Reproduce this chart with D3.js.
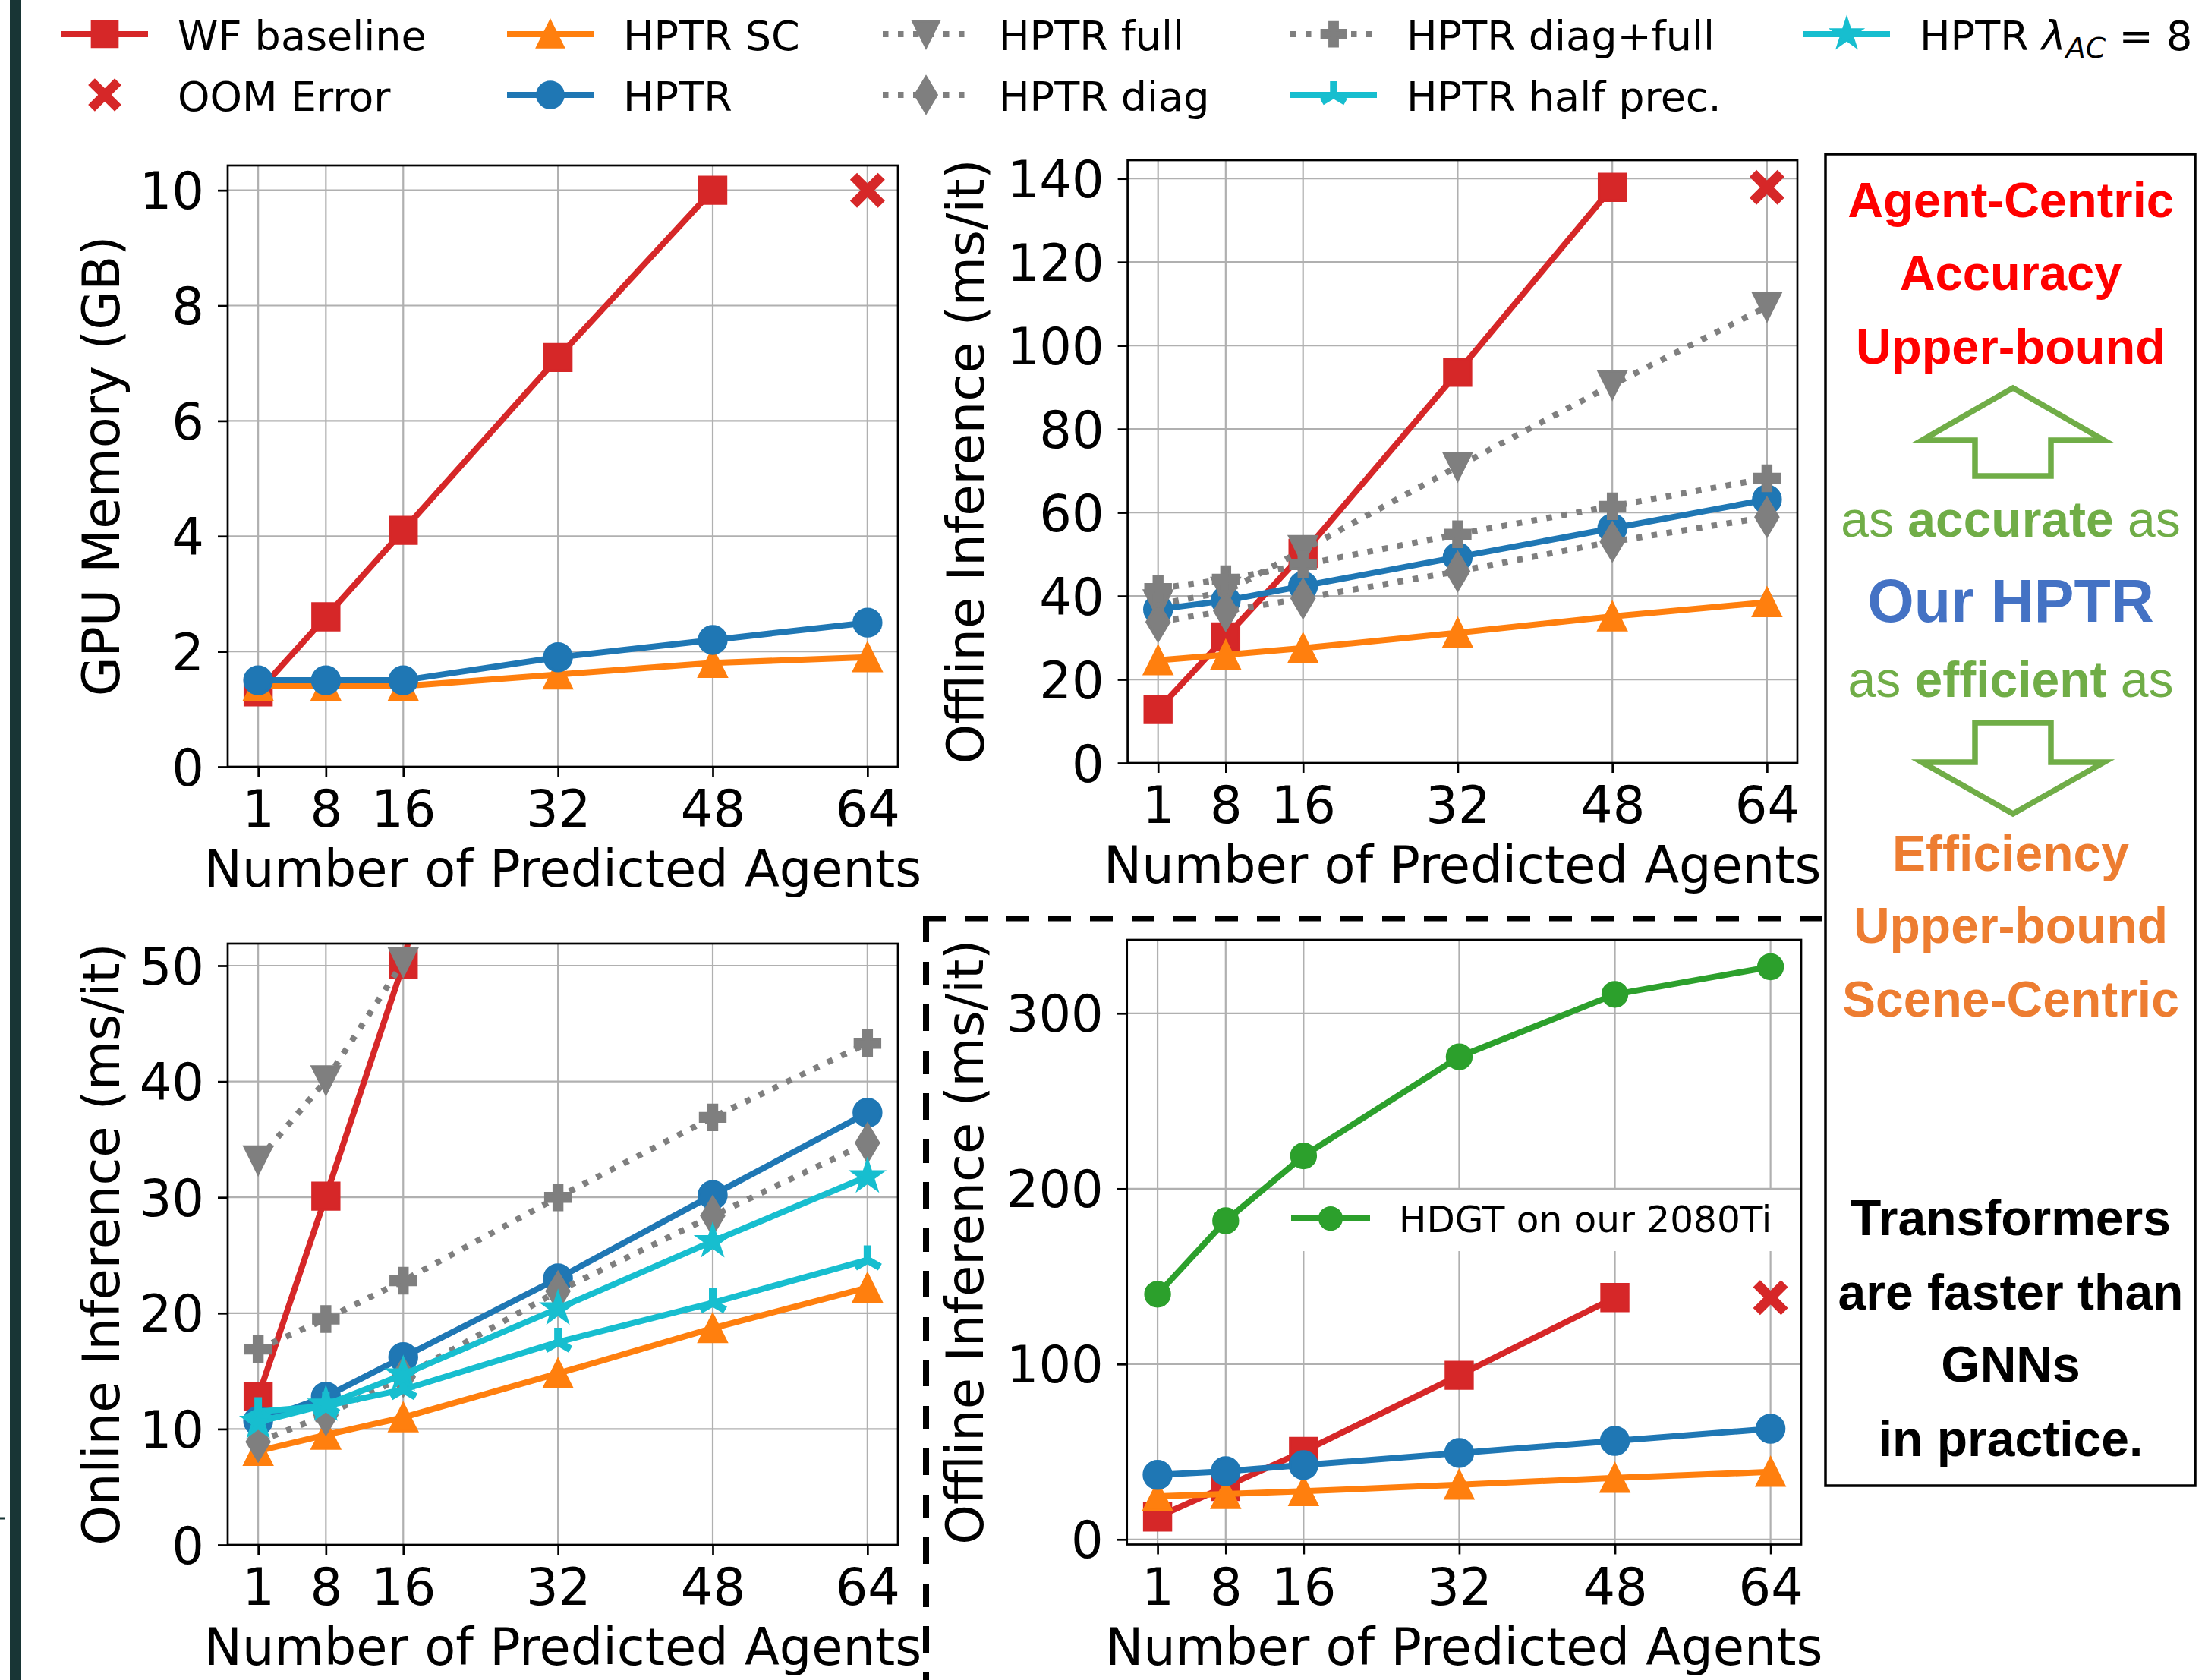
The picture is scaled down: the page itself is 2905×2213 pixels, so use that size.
<!DOCTYPE html>
<html>
<head>
<meta charset="utf-8">
<script src="https://cdn.jsdelivr.net/npm/d3@7"></script>
<style>
  html, body { margin: 0; padding: 0; background: #fff; }
  svg { display: block; }
</style>
</head>
<body>
<div id="chart"></div>
<script>
// ---
// Data
// ---
const agents = [1, 8, 16, 32, 48, 64]

// GPU memory (GB)
const memWF = [1.3, 2.6, 4.1, 7.1, 10.0]
const memOOM = [10.0]
const memSC = [1.4, 1.4, 1.4, 1.6, 1.8, 1.9]
const memHPTR = [1.5, 1.5, 1.5, 1.9, 2.2, 2.5]

// Offline inference (ms/it)
const offWF = [12.8, 30.2, 50.2, 93.6, 137.9]
const offOOM = [137.9]
const offSC = [24.6, 25.9, 27.5, 31.2, 35.1, 38.5]
const offHPTR = [36.8, 38.9, 42.4, 49.3, 56.2, 63.1]
const offFull = [38.0, 41.0, 51.0, 71.0, 90.6, 109.3]
const offDiag = [33.8, 36.4, 39.4, 45.9, 53.0, 58.9]
const offDiagFull = [41.8, 44.0, 47.5, 54.8, 61.5, 68.2]
const offHDGT = [139.8, 181.7, 218.7, 275.2, 310.8, 326.5]

// Online inference (ms/it)
const onWF = [12.8, 30.1, 50.1, 112]
const onSC = [8.1, 9.5, 11.0, 14.8, 18.7, 22.2]
const onHPTR = [10.7, 12.8, 16.2, 23.0, 30.2, 37.3]
const onFull = [33.2, 40.1, 50.3]
const onDiag = [8.9, 11.2, 14.5, 21.9, 28.4, 34.7]
const onDiagFull = [16.9, 19.5, 22.8, 30.0, 36.9, 43.3]
const onHalf = [11.5, 12.0, 13.4, 17.5, 20.9, 24.6]
const onLambda = [10.6, 12.1, 14.7, 20.4, 26.2, 31.8]

// Tick labels
const memTicks = [0, 2, 4, 6, 8, 10]
const offTicks = [0, 20, 40, 60, 80, 100, 120, 140]
const onTicks = [0, 10, 20, 30, 40, 50]
const hdgtTicks = [0, 100, 200, 300]

const legendNames = ['WF baseline', 'OOM Error', 'HPTR SC', 'HPTR', 'HPTR full',
  'HPTR diag', 'HPTR diag+full', 'HPTR half prec.', 'HPTR λAC = 8']

// ---
// Styles
// ---
const W = 2905
const H = 2213
const C = {
  red: '#d62728', orange: '#ff7f0e', blue: '#1f77b4',
  gray: '#7f7f7f', cyan: '#17becf', green: '#2ca02c'
}
const LW = 8
const EDGE = 3.4
const DOT = '7.5,12.5'
const FONT = '"DejaVu Sans", sans-serif'
const BOX_FONT = '"Liberation Sans", Arial, sans-serif'
const FS = 67

const svg = d3.select('#chart').append('svg')
  .attr('width', W)
  .attr('height', H)
  .style('font-family', FONT)

svg.append('rect').attr('width', W).attr('height', H).attr('fill', '#fff')

// dark strip at the left border of the picture
svg.append('rect').attr('x', 13).attr('y', 0).attr('width', 15).attr('height', H).attr('fill', '#183535')
svg.append('line').attr('x1', 0).attr('x2', 7).attr('y1', 2000).attr('y2', 2000)
  .attr('stroke', '#183535').attr('stroke-width', 3)

// ---
// Markers
// ---
const markerSize = { square: 35, circle: 36, tri: 36, trid: 36, thin: 35, plus: 33, star: 42, triup: 38, x: 52, dot: 32 }

function markerPath (type, s) {
  const h = s / 2
  if (type === 'square') return `M${-h},${-h}H${h}V${h}H${-h}Z`
  if (type === 'circle' || type === 'dot') return d3.symbol(d3.symbolCircle, Math.PI * h * h)()
  if (type === 'tri') return `M0,${-h}L${h},${h}L${-h},${h}Z`
  if (type === 'trid') return `M0,${h}L${h},${-h}L${-h},${-h}Z`
  if (type === 'thin') {
    const a = 0.707 * s
    const b = 0.6 * a
    return `M0,${-a}L${b},0L0,${a}L${-b},0Z`
  }
  if (type === 'plus') {
    const t = s / 6
    return `M${-t},${-3 * t}H${t}V${-t}H${3 * t}V${t}H${t}V${3 * t}H${-t}V${t}H${-3 * t}V${-t}H${-t}Z`
  }
  if (type === 'x') {
    // rotated filled plus with slimmer arms
    const t = s / 8
    const e = s / 2
    return `M${-t},${-e}H${t}V${-t}H${e}V${t}H${t}V${e}H${-t}V${t}H${-e}V${-t}H${-t}Z`
  }
  if (type === 'star') {
    const pts = d3.range(10).map(i => {
      const r = i % 2 ? h * 0.382 : h
      const a = -Math.PI / 2 + i * Math.PI / 5
      return [r * Math.cos(a), r * Math.sin(a)]
    })
    return 'M' + pts.map(p => p.join(',')).join('L') + 'Z'
  }
  if (type === 'triup') {
    return `M0,0V${-h}M0,0L${0.866 * h},${0.5 * h}M0,0L${-0.866 * h},${0.5 * h}`
  }
}

function drawMarkers (g, pts, s, scale) {
  const size = markerSize[s.marker] * scale
  g.selectAll(null)
    .data(pts)
    .enter()
    .append('path')
      .attr('transform', d => `translate(${d[0]},${d[1]})` + (s.marker === 'x' ? ' rotate(45)' : ''))
      .attr('d', markerPath(s.marker, size))
      .attr('fill', s.marker === 'triup' ? 'none' : s.color)
      .attr('stroke', s.color)
      .attr('stroke-width', s.marker === 'triup' ? 10 * scale : (s.marker === 'x' ? 0 : EDGE))
      .attr('stroke-linejoin', 'miter')
}

// ---
// Series tables built from the arrays
// ---
const S = {
  wf: { color: C.red, marker: 'square' },
  oom: { color: C.red, marker: 'x', noLine: true, at: [64] },
  sc: { color: C.orange, marker: 'tri' },
  hptr: { color: C.blue, marker: 'circle' },
  full: { color: C.gray, marker: 'trid', dash: DOT },
  diag: { color: C.gray, marker: 'thin', dash: DOT },
  diagFull: { color: C.gray, marker: 'plus', dash: DOT },
  half: { color: C.cyan, marker: 'triup' },
  lambda: { color: C.cyan, marker: 'star' },
  hdgt: { color: C.green, marker: 'dot' }
}

const memSeries = [
  { ...S.wf, v: memWF }, { ...S.oom, v: memOOM }, { ...S.sc, v: memSC }, { ...S.hptr, v: memHPTR }
]
const offSeries = [
  { ...S.wf, v: offWF }, { ...S.oom, v: offOOM }, { ...S.sc, v: offSC }, { ...S.hptr, v: offHPTR },
  { ...S.full, v: offFull }, { ...S.diag, v: offDiag }, { ...S.diagFull, v: offDiagFull }
]
const onSeries = [
  { ...S.wf, v: onWF }, { ...S.sc, v: onSC }, { ...S.hptr, v: onHPTR },
  { ...S.full, v: onFull }, { ...S.diag, v: onDiag }, { ...S.diagFull, v: onDiagFull },
  { ...S.half, v: onHalf }, { ...S.lambda, v: onLambda }
]
const hdgtSeries = [
  { ...S.hdgt, v: offHDGT },
  { ...S.wf, v: offWF }, { ...S.oom, v: offOOM }, { ...S.sc, v: offSC }, { ...S.hptr, v: offHPTR }
]

// ---
// Panel
// ---
let clipId = 0

function panel ({ x0, x1, y0, y1, yDomain, yTicks, ylabel, ylabelOff, series }) {
  const x = d3.scaleLinear().domain([-2.15, 67.15]).range([x0, x1])
  const y = d3.scaleLinear().domain(yDomain).range([y1, y0])
  const g = svg.append('g')

  const id = 'clip' + (clipId++)
  svg.append('clipPath').attr('id', id)
    .append('rect').attr('x', x0).attr('y', y0).attr('width', x1 - x0).attr('height', y1 - y0)

  // Grid
  g.append('g').selectAll('line').data(agents).enter().append('line')
    .attr('x1', d => x(d)).attr('x2', d => x(d)).attr('y1', y0).attr('y2', y1)
    .attr('stroke', '#b0b0b0').attr('stroke-width', 2.2)
  g.append('g').selectAll('line').data(yTicks).enter().append('line')
    .attr('x1', x0).attr('x2', x1).attr('y1', d => y(d)).attr('y2', d => y(d))
    .attr('stroke', '#b0b0b0').attr('stroke-width', 2.2)

  // Data
  const plot = g.append('g').attr('clip-path', `url(#${id})`)
  const line = d3.line().x(d => d[0]).y(d => d[1])
  series.forEach(s => {
    const pts = d3.zip(s.at || agents, s.v).map(d => [x(d[0]), y(d[1])])
    if (!s.noLine) {
      plot.append('path')
        .attr('d', line(pts))
        .attr('fill', 'none')
        .attr('stroke', s.color)
        .attr('stroke-width', LW)
        .attr('stroke-dasharray', s.dash || null)
        .attr('stroke-linejoin', 'round')
    }
    drawMarkers(plot, pts, s, 1)
  })

  // Axes
  const xAxis = d3.axisBottom(x).tickValues(agents).tickSize(13).tickSizeOuter(0).tickPadding(18.5)
  const yAxis = d3.axisLeft(y).tickValues(yTicks).tickSize(13).tickSizeOuter(0).tickPadding(18)

  const gx = g.append('g').attr('transform', `translate(0,${y1})`).call(xAxis)
  const gy = g.append('g').attr('transform', `translate(${x0},0)`).call(yAxis)
  ;[gx, gy].forEach(a => {
    a.attr('font-family', FONT).attr('font-size', FS)
    a.selectAll('line').attr('stroke', '#000').attr('stroke-width', 2.7)
    a.select('.domain').remove()
    a.selectAll('text').attr('fill', '#000')
  })
  gy.selectAll('text').attr('dy', '0.36em')

  g.append('rect')
    .attr('x', x0).attr('y', y0).attr('width', x1 - x0).attr('height', y1 - y0)
    .attr('fill', 'none').attr('stroke', '#000').attr('stroke-width', 2.7)

  g.append('text')
    .attr('x', (x0 + x1) / 2).attr('y', y1 + 158)
    .attr('text-anchor', 'middle').attr('font-size', FS)
    .text('Number of Predicted Agents')

  g.append('text')
    .attr('transform', `translate(${x0 - ylabelOff},${(y0 + y1) / 2}) rotate(-90)`)
    .attr('text-anchor', 'middle').attr('font-size', FS)
    .text(ylabel)

  return { g, x, y }
}

panel({
  x0: 300, x1: 1183, y0: 218, y1: 1010, yDomain: [0, 10.43], yTicks: memTicks,
  ylabel: 'GPU Memory (GB)', ylabelOff: 143, series: memSeries
})

panel({
  x0: 1485.6, x1: 2368, y0: 211, y1: 1005, yDomain: [0, 144.4], yTicks: offTicks,
  ylabel: 'Offline Inference (ms/it)', ylabelOff: 190, series: offSeries
})

panel({
  x0: 300, x1: 1183, y0: 1243, y1: 2035, yDomain: [0, 51.9], yTicks: onTicks,
  ylabel: 'Online Inference (ms/it)', ylabelOff: 143, series: onSeries
})

panel({
  x0: 1484.7, x1: 2373, y0: 1238, y1: 2034.5, yDomain: [-2.9, 341.9], yTicks: hdgtTicks,
  ylabel: 'Offline Inference (ms/it)', ylabelOff: 190, series: hdgtSeries
})

// inner legend of the HDGT panel, its white box hides the grid
const inner = svg.append('g')
inner.append('rect').attr('x', 1685).attr('y', 1568).attr('width', 680).attr('height', 80).attr('fill', '#fff')
inner.append('line').attr('x1', 1701).attr('x2', 1805).attr('y1', 1605).attr('y2', 1605)
  .attr('stroke', C.green).attr('stroke-width', LW)
drawMarkers(inner, [[1753, 1605]], S.hdgt, 0.9)
inner.append('text').attr('x', 1843).attr('y', 1622.5).attr('font-size', 48.5).text('HDGT on our 2080Ti')

// ---
// Top legend (5 columns, filled column by column)
// ---
const legendItems = [S.wf, S.oom, S.sc, S.hptr, S.full, S.diag, S.diagFull, S.half, S.lambda]
const colX = [81, 668, 1163, 1700, 2376]
const rowY = [45, 125]
const legend = svg.append('g').attr('font-size', 54)

legendItems.forEach((s, i) => {
  const lx = colX[Math.floor(i / 2)]
  const ly = rowY[i % 2]
  const item = legend.append('g')
  if (!s.noLine) {
    item.append('line')
      .attr('x1', lx).attr('x2', lx + 114).attr('y1', ly).attr('y2', ly)
      .attr('stroke', s.color).attr('stroke-width', LW)
      .attr('stroke-dasharray', s.dash || null)
  }
  drawMarkers(item, [[lx + 57, ly]], s, 0.95)
  const t = item.append('text').attr('x', lx + 153).attr('y', ly + 20.5)
  const name = legendNames[i]
  if (name.indexOf('λ') >= 0) {
    t.append('tspan').text('HPTR ')
    t.append('tspan').attr('font-style', 'italic').text('λ')
    t.append('tspan').attr('font-style', 'italic').attr('font-size', 38).attr('dy', 10).text('AC')
    t.append('tspan').attr('dy', -10).text(' = 8')
  } else {
    t.text(name)
  }
})

// ---
// Dashed frame around the HDGT panel
// ---
svg.append('path')
  .attr('d', 'M1216,1210H2405')
  .attr('fill', 'none').attr('stroke', '#000').attr('stroke-width', 7)
  .attr('stroke-dasharray', '30,25')
svg.append('path')
  .attr('d', 'M1220,1206V2213')
  .attr('fill', 'none').attr('stroke', '#000').attr('stroke-width', 8)
  .attr('stroke-dasharray', '35,26,31,25')

// ---
// Right text box
// ---
const box = svg.append('g').attr('font-family', BOX_FONT).attr('font-weight', 'bold').attr('text-anchor', 'middle')
box.append('rect')
  .attr('x', 2405).attr('y', 203).attr('width', 487).attr('height', 1754)
  .attr('fill', 'none').attr('stroke', '#000').attr('stroke-width', 3.5)

const cx = 2649
const boxLines = [
  { t: 'Agent-Centric', c: '#ff0000', y: 286, fs: 65 },
  { t: 'Accuracy', c: '#ff0000', y: 382, fs: 65 },
  { t: 'Upper-bound', c: '#ff0000', y: 479, fs: 65 },
  { t: 'Our HPTR', c: '#4472c4', y: 819, fs: 79 },
  { t: 'Efficiency', c: '#ed7d31', y: 1147, fs: 66 },
  { t: 'Upper-bound', c: '#ed7d31', y: 1242, fs: 66 },
  { t: 'Scene-Centric', c: '#ed7d31', y: 1339, fs: 66 },
  { t: 'Transformers', c: '#000', y: 1627, fs: 66 },
  { t: 'are faster than', c: '#000', y: 1725, fs: 66 },
  { t: 'GNNs', c: '#000', y: 1820, fs: 66 },
  { t: 'in practice.', c: '#000', y: 1918, fs: 66 }
]
box.selectAll(null).data(boxLines).enter().append('text')
  .attr('x', cx).attr('y', d => d.y).attr('fill', d => d.c).attr('font-size', d => d.fs)
  .text(d => d.t)

const greenLines = [['as ', 'accurate', ' as', 707], ['as ', 'efficient', ' as', 918]]
greenLines.forEach(([a, b, c, yy]) => {
  const t = box.append('text').attr('x', cx).attr('y', yy).attr('fill', '#70ad47').attr('font-size', 66)
  t.append('tspan').attr('font-weight', 'normal').text(a)
  t.append('tspan').text(b)
  t.append('tspan').attr('font-weight', 'normal').text(c)
})

const arrowStyle = sel => sel.attr('fill', 'none').attr('stroke', '#70ad47').attr('stroke-width', 7.5).attr('stroke-linejoin', 'miter')
box.append('path').attr('d', 'M2652,511L2772,580H2702V627H2602V580H2532Z').call(arrowStyle)
box.append('path').attr('d', 'M2602,952H2702V1004H2772L2652,1072L2532,1004H2602Z').call(arrowStyle)
</script>
</body>
</html>
